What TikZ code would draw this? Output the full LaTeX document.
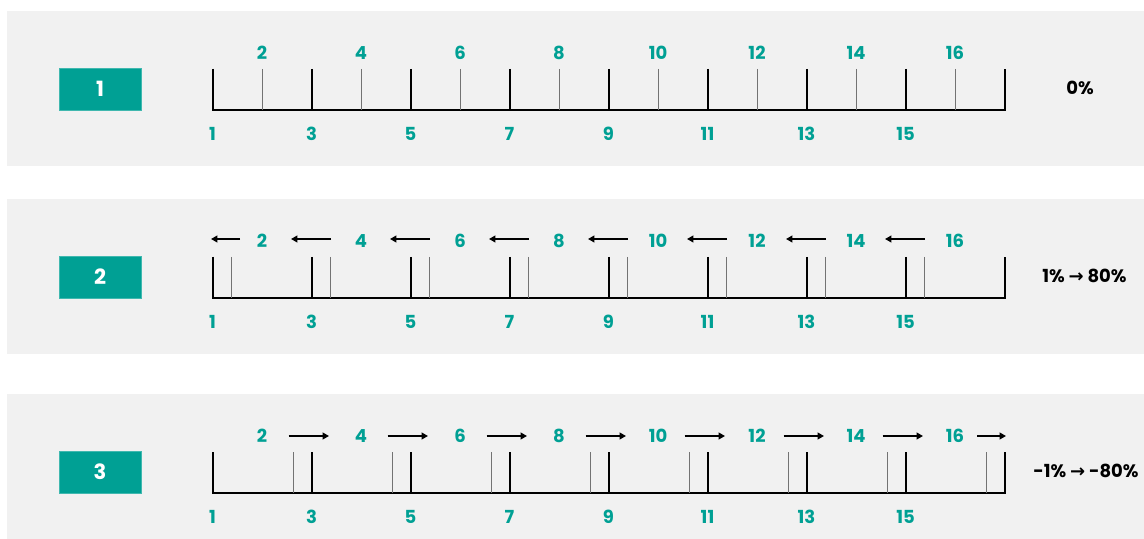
\documentclass[tikz,border=0pt]{standalone}
\usepackage{fontspec}
\setmainfont{Poppins}
\newfontfamily\arrowfont{DejaVu Sans}
\usetikzlibrary{positioning,arrows.meta}
\definecolor{ruler-teal}{RGB}{0,160,148}
\definecolor{panel-grey}{RGB}{241,241,241}
\definecolor{tick-grey}{RGB}{115,115,115}

\begin{document}
\begin{tikzpicture}[x=0.5pt, y=-0.5pt,
    panel/.style={fill=panel-grey, draw=none},
    numbox/.style={
      fill=ruler-teal, draw=ruler-teal!75!white, line width=0.4pt,
      minimum width=41pt, minimum height=21pt, inner sep=0pt,
      text=white, font=\bfseries\fontsize{10.5}{12}\selectfont},
    num/.style={text=ruler-teal, inner sep=0pt,
      font=\bfseries\fontsize{9}{10}\selectfont},
    rate/.style={inner sep=0pt, font=\bfseries\fontsize{9}{10}\selectfont},
    major/.style={line width=1pt, black},
    minor/.style={line width=0.5pt, tick-grey},
    arr/.style={-{Triangle[length=3.2pt,width=3.4pt]}, line width=0.9pt}
  ]
  \useasboundingbox (0,0) rectangle (1144,539);

  % three panels: number, baseline, offset of the thin tick
  \foreach \p/\b/\off in {1/110/49.5, 2/298/18.6, 3/493/80.5} {
    \fill[panel] (7,\b-99) rectangle (1144,{min(\b+56,539)});
    \node[numbox] (box\p) at (100,\b-21) {\p};
    \draw[major] (212.5,\b-41) -- (212.5,\b) -- (1004.5,\b) -- (1004.5,\b-41);
    \foreach \i in {0,...,7} {
      \pgfmathsetmacro\mx{212.5+99*\i}
      \pgfmathtruncatemacro\odd{2*\i+1}
      \pgfmathtruncatemacro\even{2*\i+2}
      \draw[major] (\mx,\b-41) -- (\mx,\b);
      \draw[minor] (\mx+\off,\b-41) -- (\mx+\off,\b);
      \node[num] (p\p-n\odd) at (\mx,\b+24) {\odd};
      \node[num] (p\p-n\even) at (\mx+49.5,\b-57) {\even};
    }
  }

  % panel 2: shift to the left
  \coordinate (l0-from) at (240,239);
  \coordinate (l0-to) at (211,239);
  \draw[arr] (l0-from) -- (l0-to);
  \foreach \i in {1,...,7} {
    \coordinate (l\i-from) at (232+99*\i,239);
    \coordinate (l\i-to) at (192+99*\i,239);
    \draw[arr] (l\i-from) -- (l\i-to);
  }

  % panel 3: shift to the right
  \foreach \i in {0,...,6} {
    \coordinate (r\i-from) at (288.5+99*\i,436);
    \coordinate (r\i-to) at (329+99*\i,436);
    \draw[arr] (r\i-from) -- (r\i-to);
  }
  \coordinate (r7-from) at (977,436);
  \coordinate (r7-to) at (1006,436);
  \draw[arr] (r7-from) -- (r7-to);

  \node[rate] (rate1) at (1080,88) {0\%};
  \node[rate] (rate2) at (1084.5,276) {1\% {\arrowfont\bfseries →} 80\%};
  \node[rate] (rate3) at (1086,471) {-1\% {\arrowfont\bfseries →} -80\%};
\end{tikzpicture}
\end{document}
